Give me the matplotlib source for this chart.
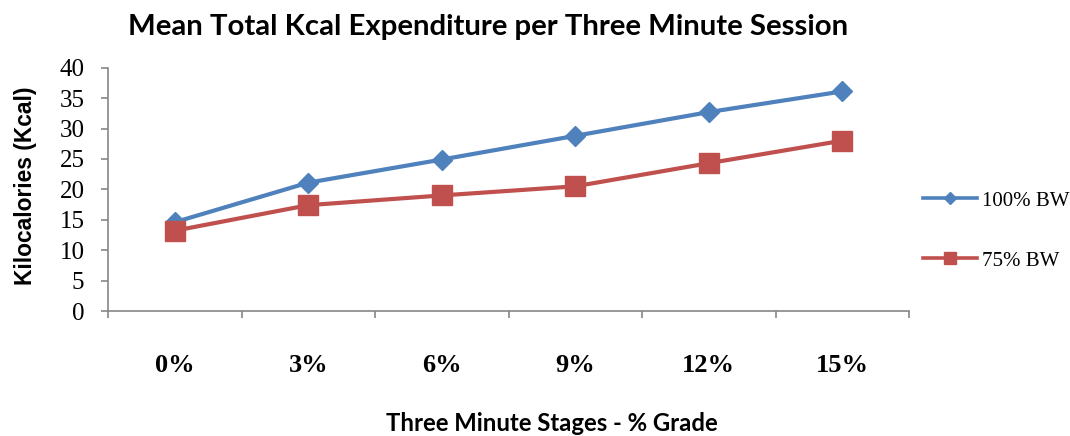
import matplotlib
matplotlib.use("Agg")
import matplotlib.pyplot as plt
from matplotlib.ticker import FixedLocator

# Data
grades = ["0%", "3%", "6%", "9%", "12%", "15%"]
kcal_100bw = [14.6, 21.1, 24.9, 28.8, 32.7, 36.1]
kcal_75bw = [13.2, 17.4, 19.0, 20.5, 24.3, 28.0]
series_labels = ["100% BW", "75% BW"]
y_ticks = [0, 5, 10, 15, 20, 25, 30, 35, 40]

W, H = 1070, 436
fig = plt.figure(figsize=(W / 100, H / 100), dpi=100)

# Axes box in pixel coordinates
ax_left, ax_right, ax_top, ax_bottom = 108, 909, 67.7, 311
ax = fig.add_axes([ax_left / W, (H - ax_bottom) / H,
                   (ax_right - ax_left) / W, (ax_bottom - ax_top) / H])

blue = "#4F81BD"
red = "#C0504D"
axis_gray = "#868686"

x = list(range(len(grades)))
ax.plot(x, kcal_100bw, color=blue, lw=3, marker="D", ms=10,
        label=series_labels[0], zorder=3)
ax.plot(x, kcal_75bw, color=red, lw=3, marker="s", ms=14,
        label=series_labels[1], zorder=3)

ax.set_xlim(-0.5, len(grades) - 0.5)
ax.set_ylim(0, 40)

serif = "Liberation Serif"

# Y axis
ax.set_yticks(y_ticks)
ax.set_yticklabels([str(v) for v in y_ticks], fontfamily=serif, fontsize=18)
ax.tick_params(axis="y", direction="out", length=5, width=1.2,
               color=axis_gray, pad=12)

# X axis: ticks on category boundaries, labels centred on categories
ax.xaxis.set_major_locator(FixedLocator([i - 0.5 for i in range(len(grades) + 1)]))
ax.xaxis.set_minor_locator(FixedLocator(x))
ax.set_xticklabels([], minor=False)
ax.set_xticklabels(grades, minor=True, fontfamily=serif, fontweight="bold",
                   fontsize=19)
ax.tick_params(axis="x", which="major", direction="out", length=5, width=1.2,
               color=axis_gray)
ax.tick_params(axis="x", which="minor", length=0, pad=31)

for side in ("top", "right"):
    ax.spines[side].set_visible(False)
for side in ("left", "bottom"):
    ax.spines[side].set_color(axis_gray)
    ax.spines[side].set_linewidth(1.2)

leg = ax.legend(loc="upper left", bbox_to_anchor=(923 / W, (H - 191) / H),
                bbox_transform=fig.transFigure, frameon=False,
                prop={"family": serif, "size": 15}, handlelength=2.6,
                handletextpad=0.25, labelspacing=1.95, borderpad=0,
                borderaxespad=0, markerscale=0.65)
for line in leg.get_lines():
    line.set_linewidth(2.6)

# Titles, fitted to their rendered widths
sans_title = "Lato"
title = fig.text(488 / W, (H - 27) / H,
                 "Mean Total Kcal Expenditure per Three Minute Session",
                 ha="center", va="center", fontfamily=sans_title,
                 fontweight="bold", fontsize=18)
xlab = fig.text(552 / W, (H - 423) / H, "Three Minute Stages - % Grade",
                ha="center", va="center", fontfamily=sans_title,
                fontweight="bold", fontsize=15)
ylab = fig.text(26 / W, (H - 186) / H, "Kilocalories (Kcal)", rotation=90,
                ha="center", va="center", fontfamily="Liberation Sans",
                fontweight="bold", fontsize=15)

renderer = fig.canvas.get_renderer()
for txt, target, horiz in ((title, 722, True), (xlab, 333, True), (ylab, 200, False)):
    bb = txt.get_window_extent(renderer)
    cur = bb.width if horiz else bb.height
    txt.set_fontsize(txt.get_fontsize() * target / cur)

fig.savefig("out.png", dpi=100)
